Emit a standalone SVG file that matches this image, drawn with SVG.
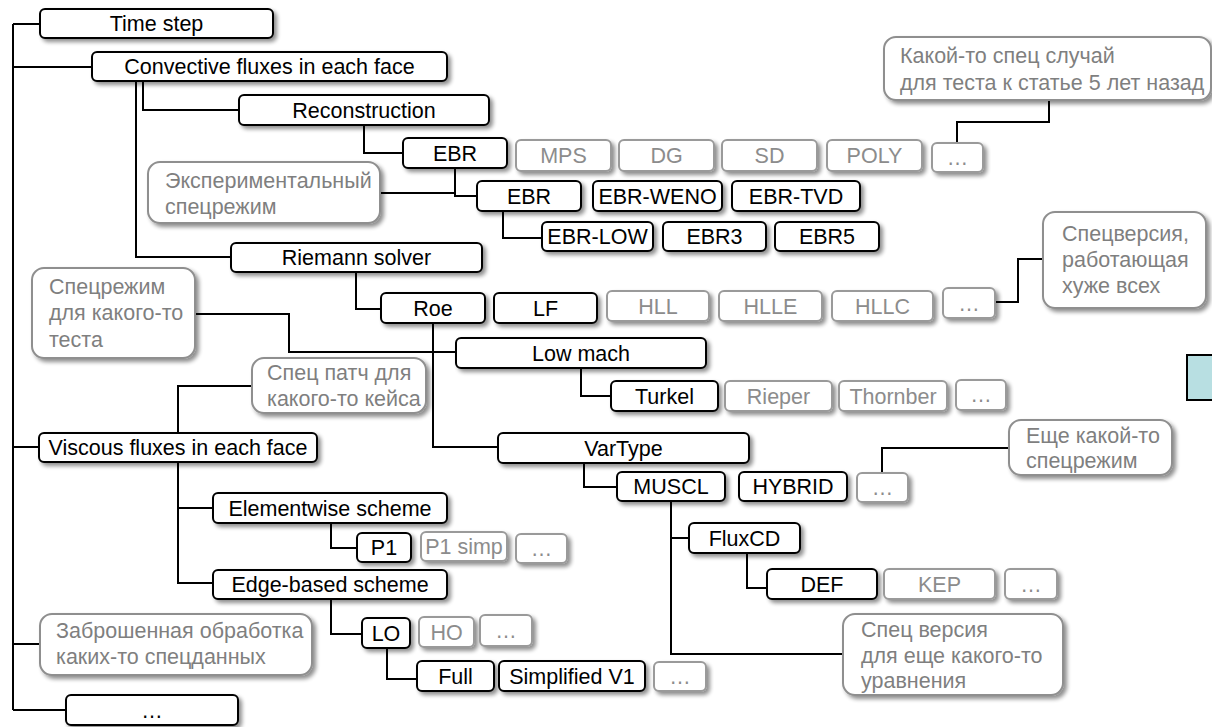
<svg xmlns="http://www.w3.org/2000/svg" width="1212" height="727" viewBox="0 0 1212 727">
  <defs>
    <filter id="sh" x="-10%" y="-25%" width="125%" height="170%">
      <feGaussianBlur in="SourceAlpha" stdDeviation="2"/>
      <feOffset dx="3" dy="3"/>
      <feComponentTransfer><feFuncA type="linear" slope="0.45"/></feComponentTransfer>
      <feMerge><feMergeNode/><feMergeNode in="SourceGraphic"/></feMerge>
    </filter>
  </defs>
  <style>
    text { font-family: "Liberation Sans", Arial, sans-serif; font-size: 21.5px; }
    .n rect { fill: #fff; stroke: #000; stroke-width: 2; }
    .n text { fill: #000; text-anchor: middle; }
    .g rect { fill: #fff; stroke: #9a9a9a; stroke-width: 2; }
    .g text { fill: #8c8c8c; text-anchor: middle; }
    .c rect { fill: #fff; stroke: #8f8f8f; stroke-width: 2; }
    .c text { fill: #7f7f7f; text-anchor: start; }
    #links path { fill: none; stroke: #000; stroke-width: 2; }
  </style>
  <rect width="1212" height="727" fill="#fff"/>

  <!-- connectors -->
  <g id="links">
    <path d="M13,24 V710"/>
    <path d="M13,24 H40"/>
    <path d="M13,67 H92"/>
    <path d="M13,447 H39"/>
    <path d="M13,644 H40"/>
    <path d="M13,710 H66"/>
    <path d="M143,81 V110 H239"/>
    <path d="M136,81 V257 H231"/>
    <path d="M364,125 V153 H403"/>
    <path d="M455,168 V196 H477"/>
    <path d="M380,193 H455"/>
    <path d="M503,211 V238 H542"/>
    <path d="M1049,100 V122 H957 V143"/>
    <path d="M356,272 V309 H381"/>
    <path d="M433,323 V447 H498"/>
    <path d="M195,314 H289 V352 H456"/>
    <path d="M581,368 V396 H611"/>
    <path d="M995,302 H1018 V259 H1043"/>
    <path d="M178,433 V386 H252"/>
    <path d="M178,462 V583 H213"/>
    <path d="M178,508 H213"/>
    <path d="M331,523 V548 H357"/>
    <path d="M331,599 V634 H362"/>
    <path d="M387,648 V679 H417"/>
    <path d="M584,463 V487 H617"/>
    <path d="M882,473 V448 H1009"/>
    <path d="M671,501 V654 H843"/>
    <path d="M671,538 H689"/>
    <path d="M747,553 V588 H767"/>
  </g>

  <!-- main nodes -->
  <g id="time-step" class="n"><rect x="40" y="9" width="233" height="29" rx="5" filter="url(#sh)"/><text x="156.5" y="31">Time step</text></g>
  <g id="convective" class="n"><rect x="92" y="52" width="355" height="29" rx="5" filter="url(#sh)"/><text x="269.5" y="74">Convective fluxes in each face</text></g>
  <g id="reconstruction" class="n"><rect x="239" y="95" width="250" height="30" rx="5" filter="url(#sh)"/><text x="364" y="117.5">Reconstruction</text></g>
  <g id="ebr" class="n"><rect x="403" y="138" width="104" height="30" rx="5" filter="url(#sh)"/><text x="455" y="160.5">EBR</text></g>
  <g id="ebr-sub" class="n"><rect x="477" y="181" width="104" height="30" rx="5" filter="url(#sh)"/><text x="529" y="203.5">EBR</text></g>
  <g id="ebr-weno" class="n"><rect x="593" y="181" width="129" height="30" rx="5" filter="url(#sh)"/><text x="657.5" y="203.5">EBR-WENO</text></g>
  <g id="ebr-tvd" class="n"><rect x="732" y="181" width="128" height="30" rx="5" filter="url(#sh)"/><text x="796" y="203.5">EBR-TVD</text></g>
  <g id="ebr-low" class="n"><rect x="542" y="222" width="111" height="29" rx="5" filter="url(#sh)"/><text x="597.5" y="244">EBR-LOW</text></g>
  <g id="ebr3" class="n"><rect x="663" y="222" width="103" height="29" rx="5" filter="url(#sh)"/><text x="714.5" y="244">EBR3</text></g>
  <g id="ebr5" class="n"><rect x="775" y="222" width="104" height="29" rx="5" filter="url(#sh)"/><text x="827" y="244">EBR5</text></g>
  <g id="riemann" class="n"><rect x="231" y="243" width="251" height="29" rx="5" filter="url(#sh)"/><text x="356.5" y="265">Riemann solver</text></g>
  <g id="roe" class="n"><rect x="381" y="293" width="104" height="30" rx="5" filter="url(#sh)"/><text x="433" y="315.5">Roe</text></g>
  <g id="lf" class="n"><rect x="494" y="293" width="103" height="30" rx="5" filter="url(#sh)"/><text x="545.5" y="315.5">LF</text></g>
  <g id="low-mach" class="n"><rect x="456" y="338" width="250" height="30" rx="5" filter="url(#sh)"/><text x="581" y="360.5">Low mach</text></g>
  <g id="turkel" class="n"><rect x="611" y="381" width="107" height="30" rx="5" filter="url(#sh)"/><text x="664.5" y="403.5">Turkel</text></g>
  <g id="viscous" class="n"><rect x="39" y="433" width="278" height="29" rx="5" filter="url(#sh)"/><text x="178" y="455">Viscous fluxes in each face</text></g>
  <g id="vartype" class="n"><rect x="498" y="433" width="251" height="30" rx="5" filter="url(#sh)"/><text x="623.5" y="455.5">VarType</text></g>
  <g id="muscl" class="n"><rect x="617" y="472" width="108" height="29" rx="5" filter="url(#sh)"/><text x="671" y="494">MUSCL</text></g>
  <g id="hybrid" class="n"><rect x="739" y="472" width="108" height="29" rx="5" filter="url(#sh)"/><text x="793" y="494">HYBRID</text></g>
  <g id="elementwise" class="n"><rect x="213" y="493" width="234" height="30" rx="5" filter="url(#sh)"/><text x="330" y="515.5">Elementwise scheme</text></g>
  <g id="p1" class="n"><rect x="357" y="533" width="54" height="29" rx="5" filter="url(#sh)"/><text x="384" y="555">P1</text></g>
  <g id="fluxcd" class="n"><rect x="689" y="523" width="111" height="30" rx="5" filter="url(#sh)"/><text x="744.5" y="545.5">FluxCD</text></g>
  <g id="def" class="n"><rect x="767" y="569" width="110" height="30" rx="5" filter="url(#sh)"/><text x="822" y="591.5">DEF</text></g>
  <g id="edge-based" class="n"><rect x="213" y="570" width="234" height="29" rx="5" filter="url(#sh)"/><text x="330" y="592">Edge-based scheme</text></g>
  <g id="lo" class="n"><rect x="362" y="618" width="48" height="30" rx="5" filter="url(#sh)"/><text x="386" y="640.5">LO</text></g>
  <g id="full" class="n"><rect x="417" y="661" width="77" height="30" rx="5" filter="url(#sh)"/><text x="455.5" y="683.5">Full</text></g>
  <g id="simplified" class="n"><rect x="499" y="661" width="146" height="30" rx="5" filter="url(#sh)"/><text x="572" y="683.5">Simplified V1</text></g>
  <g id="more-root" class="n"><rect x="66" y="695" width="172" height="30" rx="5" filter="url(#sh)"/><text x="152" y="717.5">…</text></g>

  <!-- inactive options -->
  <g id="mps" class="g"><rect x="516" y="140" width="95" height="31" rx="5" filter="url(#sh)"/><text x="563.5" y="163">MPS</text></g>
  <g id="dg" class="g"><rect x="619" y="140" width="95" height="31" rx="5" filter="url(#sh)"/><text x="666.5" y="163">DG</text></g>
  <g id="sd" class="g"><rect x="722" y="140" width="95" height="31" rx="5" filter="url(#sh)"/><text x="769.5" y="163">SD</text></g>
  <g id="poly" class="g"><rect x="827" y="140" width="95" height="31" rx="5" filter="url(#sh)"/><text x="874.5" y="163">POLY</text></g>
  <g id="more-recon" class="g"><rect x="932" y="143" width="51" height="29" rx="5" filter="url(#sh)"/><text x="957.5" y="165">…</text></g>
  <g id="hll" class="g"><rect x="607" y="291" width="102" height="30" rx="5" filter="url(#sh)"/><text x="658" y="313.5">HLL</text></g>
  <g id="hlle" class="g"><rect x="719" y="291" width="103" height="30" rx="5" filter="url(#sh)"/><text x="770.5" y="313.5">HLLE</text></g>
  <g id="hllc" class="g"><rect x="832" y="291" width="101" height="30" rx="5" filter="url(#sh)"/><text x="882.5" y="313.5">HLLC</text></g>
  <g id="more-riemann" class="g"><rect x="943" y="288" width="52" height="30" rx="5" filter="url(#sh)"/><text x="969" y="311">…</text></g>
  <g id="rieper" class="g"><rect x="725" y="381" width="107" height="30" rx="5" filter="url(#sh)"/><text x="778.5" y="403.5">Rieper</text></g>
  <g id="thornber" class="g"><rect x="839" y="381" width="108" height="30" rx="5" filter="url(#sh)"/><text x="893" y="403.5">Thornber</text></g>
  <g id="more-lowmach" class="g"><rect x="956" y="380" width="50" height="30" rx="5" filter="url(#sh)"/><text x="981" y="402">…</text></g>
  <g id="more-vartype" class="g"><rect x="857" y="473" width="51" height="29" rx="5" filter="url(#sh)"/><text x="882.5" y="495">…</text></g>
  <g id="p1-simp" class="g"><rect x="421" y="532" width="86" height="29" rx="5" filter="url(#sh)"/><text x="464" y="554">P1 simp</text></g>
  <g id="more-elem" class="g"><rect x="516" y="534" width="51" height="29" rx="5" filter="url(#sh)"/><text x="541.5" y="556">…</text></g>
  <g id="kep" class="g"><rect x="884" y="569" width="111" height="30" rx="5" filter="url(#sh)"/><text x="939.5" y="591.5">KEP</text></g>
  <g id="more-fluxcd" class="g"><rect x="1005" y="569" width="52" height="30" rx="5" filter="url(#sh)"/><text x="1031" y="591.5">…</text></g>
  <g id="ho" class="g"><rect x="419" y="617" width="55" height="30" rx="5" filter="url(#sh)"/><text x="446.5" y="639.5">HO</text></g>
  <g id="more-edge" class="g"><rect x="480" y="615" width="52" height="31" rx="5" filter="url(#sh)"/><text x="506" y="638">…</text></g>
  <g id="more-lo" class="g"><rect x="654" y="662" width="52" height="29" rx="5" filter="url(#sh)"/><text x="680" y="684">…</text></g>

  <!-- notes -->
  <g id="note-paper" class="c"><rect x="884" y="37" width="327" height="63" rx="12" filter="url(#sh)"/><text x="900" y="63">Какой-то спец случай</text><text x="900" y="90">для теста к статье 5 лет назад</text></g>
  <g id="note-experimental" class="c"><rect x="148" y="162" width="232" height="61" rx="12" filter="url(#sh)"/><text x="165" y="188">Экспериментальный</text><text x="165" y="214">спецрежим</text></g>
  <g id="note-worst" class="c"><rect x="1043" y="212" width="163" height="96" rx="12" filter="url(#sh)"/><text x="1062" y="241">Спецверсия,</text><text x="1062" y="267">работающая</text><text x="1062" y="293">хуже всех</text></g>
  <g id="note-test" class="c"><rect x="32" y="268" width="163" height="90" rx="12" filter="url(#sh)"/><text x="49" y="294">Спецрежим</text><text x="49" y="320">для какого-то</text><text x="49" y="347">теста</text></g>
  <g id="note-patch" class="c"><rect x="252" y="358" width="174" height="55" rx="12" filter="url(#sh)"/><text x="267" y="380">Спец патч для</text><text x="267" y="406">какого-то кейса</text></g>
  <g id="note-mode" class="c"><rect x="1009" y="420" width="163" height="55" rx="12" filter="url(#sh)"/><text x="1026" y="443">Еще какой-то</text><text x="1026" y="468">спецрежим</text></g>
  <g id="note-abandoned" class="c"><rect x="40" y="614" width="272" height="61" rx="12" filter="url(#sh)"/><text x="56" y="638">Заброшенная обработка</text><text x="56" y="664">каких-то спецданных</text></g>
  <g id="note-equation" class="c"><rect x="843" y="614" width="220" height="81" rx="12" filter="url(#sh)"/><text x="861" y="637">Спец версия</text><text x="861" y="663">для еще какого-то</text><text x="861" y="688">уравнения</text></g>

  <!-- partly visible block at the right edge -->
  <rect id="edge-block" x="1187" y="355" width="40" height="45" fill="#b8dfe2" stroke="#000" stroke-width="2"/>
</svg>
